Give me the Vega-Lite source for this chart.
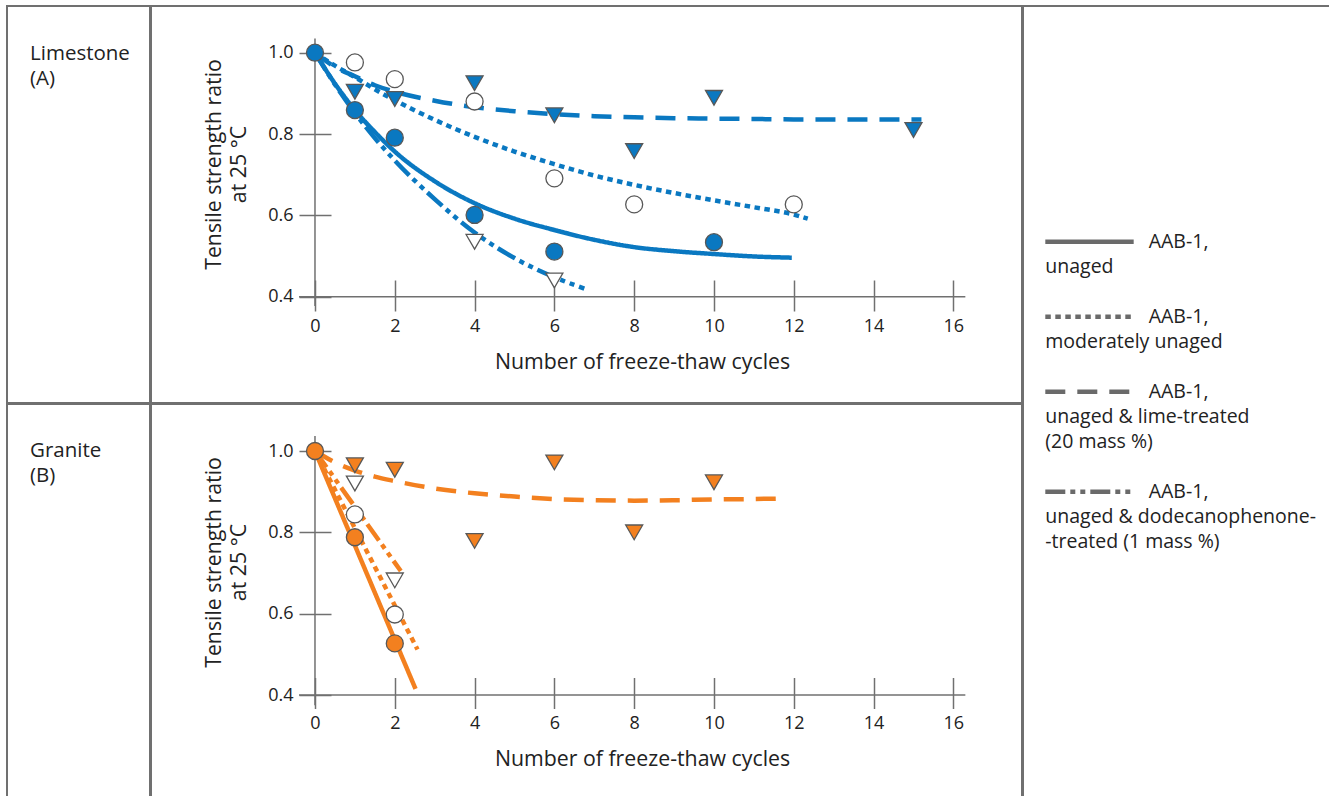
{
  "$schema": "https://vega.github.io/schema/vega-lite/v6.json",
  "padding": {"left": 6, "top": 5, "right": 0, "bottom": 0},
  "background": "white",
  "config": {
    "font": "Open Sans",
    "view": {"stroke": "#707070", "strokeWidth": 2},
    "text": {"font": "Open Sans", "color": "#222222"},
    "axis": {"labelFont": "Open Sans", "titleFont": "Open Sans", "labelColor": "#222222", "titleColor": "#222222", "titleFontWeight": "normal"}
  },
  "datasets": {
    "rocks": [
      {"rock": "Limestone", "label": "Limestone\n(A)"},
      {"rock": "Granite", "label": "Granite\n(B)"}
    ],
    "legend": [
      {"series": "AAB-1, unaged", "binder": "AAB-1,", "desc": "unaged"},
      {"series": "AAB-1, moderately unaged", "binder": "AAB-1,", "desc": "moderately unaged"},
      {"series": "AAB-1, unaged & lime-treated (20 mass %)", "binder": "AAB-1,", "desc": "unaged & lime-treated\n(20 mass %)"},
      {"series": "AAB-1, unaged & dodecanophenone-treated (1 mass %)", "binder": "AAB-1,", "desc": "unaged & dodecanophenone-\n-treated (1 mass %)"}
    ],
    "measured": [
      {"rock": "Limestone", "series": "AAB-1, unaged", "cycles": 0, "ratio": 1.0},
      {"rock": "Limestone", "series": "AAB-1, unaged", "cycles": 1, "ratio": 0.859},
      {"rock": "Limestone", "series": "AAB-1, unaged", "cycles": 2, "ratio": 0.791},
      {"rock": "Limestone", "series": "AAB-1, unaged", "cycles": 4, "ratio": 0.601},
      {"rock": "Limestone", "series": "AAB-1, unaged", "cycles": 6, "ratio": 0.511},
      {"rock": "Limestone", "series": "AAB-1, unaged", "cycles": 10, "ratio": 0.534},
      {"rock": "Limestone", "series": "AAB-1, moderately unaged", "cycles": 1, "ratio": 0.976},
      {"rock": "Limestone", "series": "AAB-1, moderately unaged", "cycles": 2, "ratio": 0.935},
      {"rock": "Limestone", "series": "AAB-1, moderately unaged", "cycles": 4, "ratio": 0.88},
      {"rock": "Limestone", "series": "AAB-1, moderately unaged", "cycles": 6, "ratio": 0.691},
      {"rock": "Limestone", "series": "AAB-1, moderately unaged", "cycles": 8, "ratio": 0.627},
      {"rock": "Limestone", "series": "AAB-1, moderately unaged", "cycles": 12, "ratio": 0.627},
      {"rock": "Limestone", "series": "AAB-1, unaged & lime-treated (20 mass %)", "cycles": 1, "ratio": 0.904},
      {"rock": "Limestone", "series": "AAB-1, unaged & lime-treated (20 mass %)", "cycles": 2, "ratio": 0.886},
      {"rock": "Limestone", "series": "AAB-1, unaged & lime-treated (20 mass %)", "cycles": 4, "ratio": 0.925},
      {"rock": "Limestone", "series": "AAB-1, unaged & lime-treated (20 mass %)", "cycles": 6, "ratio": 0.846},
      {"rock": "Limestone", "series": "AAB-1, unaged & lime-treated (20 mass %)", "cycles": 8, "ratio": 0.758},
      {"rock": "Limestone", "series": "AAB-1, unaged & lime-treated (20 mass %)", "cycles": 10, "ratio": 0.889},
      {"rock": "Limestone", "series": "AAB-1, unaged & lime-treated (20 mass %)", "cycles": 15, "ratio": 0.81},
      {"rock": "Limestone", "series": "AAB-1, unaged & dodecanophenone-treated (1 mass %)", "cycles": 4, "ratio": 0.535},
      {"rock": "Limestone", "series": "AAB-1, unaged & dodecanophenone-treated (1 mass %)", "cycles": 6, "ratio": 0.44},
      {"rock": "Granite", "series": "AAB-1, unaged", "cycles": 0, "ratio": 1.0},
      {"rock": "Granite", "series": "AAB-1, unaged", "cycles": 1, "ratio": 0.788},
      {"rock": "Granite", "series": "AAB-1, unaged", "cycles": 2, "ratio": 0.527},
      {"rock": "Granite", "series": "AAB-1, moderately unaged", "cycles": 1, "ratio": 0.844},
      {"rock": "Granite", "series": "AAB-1, moderately unaged", "cycles": 2, "ratio": 0.598},
      {"rock": "Granite", "series": "AAB-1, unaged & lime-treated (20 mass %)", "cycles": 1, "ratio": 0.965},
      {"rock": "Granite", "series": "AAB-1, unaged & lime-treated (20 mass %)", "cycles": 2, "ratio": 0.954},
      {"rock": "Granite", "series": "AAB-1, unaged & lime-treated (20 mass %)", "cycles": 4, "ratio": 0.779},
      {"rock": "Granite", "series": "AAB-1, unaged & lime-treated (20 mass %)", "cycles": 6, "ratio": 0.972},
      {"rock": "Granite", "series": "AAB-1, unaged & lime-treated (20 mass %)", "cycles": 8, "ratio": 0.8},
      {"rock": "Granite", "series": "AAB-1, unaged & lime-treated (20 mass %)", "cycles": 10, "ratio": 0.923},
      {"rock": "Granite", "series": "AAB-1, unaged & dodecanophenone-treated (1 mass %)", "cycles": 1, "ratio": 0.92},
      {"rock": "Granite", "series": "AAB-1, unaged & dodecanophenone-treated (1 mass %)", "cycles": 2, "ratio": 0.682}
    ],
    "fitted": [
      {"rock": "Limestone", "series": "AAB-1, unaged", "cycles": 0, "ratio": 1.0},
      {"rock": "Limestone", "series": "AAB-1, unaged", "cycles": 0.5, "ratio": 0.924},
      {"rock": "Limestone", "series": "AAB-1, unaged", "cycles": 1, "ratio": 0.859},
      {"rock": "Limestone", "series": "AAB-1, unaged", "cycles": 1.5, "ratio": 0.805},
      {"rock": "Limestone", "series": "AAB-1, unaged", "cycles": 2, "ratio": 0.757},
      {"rock": "Limestone", "series": "AAB-1, unaged", "cycles": 3, "ratio": 0.684},
      {"rock": "Limestone", "series": "AAB-1, unaged", "cycles": 4, "ratio": 0.63},
      {"rock": "Limestone", "series": "AAB-1, unaged", "cycles": 5, "ratio": 0.592},
      {"rock": "Limestone", "series": "AAB-1, unaged", "cycles": 6, "ratio": 0.564},
      {"rock": "Limestone", "series": "AAB-1, unaged", "cycles": 7, "ratio": 0.54},
      {"rock": "Limestone", "series": "AAB-1, unaged", "cycles": 8, "ratio": 0.522},
      {"rock": "Limestone", "series": "AAB-1, unaged", "cycles": 9, "ratio": 0.512},
      {"rock": "Limestone", "series": "AAB-1, unaged", "cycles": 10, "ratio": 0.505},
      {"rock": "Limestone", "series": "AAB-1, unaged", "cycles": 11, "ratio": 0.499},
      {"rock": "Limestone", "series": "AAB-1, unaged", "cycles": 11.95, "ratio": 0.496},
      {"rock": "Limestone", "series": "AAB-1, moderately unaged", "cycles": 0, "ratio": 1.0},
      {"rock": "Limestone", "series": "AAB-1, moderately unaged", "cycles": 0.5, "ratio": 0.968},
      {"rock": "Limestone", "series": "AAB-1, moderately unaged", "cycles": 1, "ratio": 0.94},
      {"rock": "Limestone", "series": "AAB-1, moderately unaged", "cycles": 1.5, "ratio": 0.91},
      {"rock": "Limestone", "series": "AAB-1, moderately unaged", "cycles": 2, "ratio": 0.883},
      {"rock": "Limestone", "series": "AAB-1, moderately unaged", "cycles": 3, "ratio": 0.835},
      {"rock": "Limestone", "series": "AAB-1, moderately unaged", "cycles": 4, "ratio": 0.793},
      {"rock": "Limestone", "series": "AAB-1, moderately unaged", "cycles": 5, "ratio": 0.757},
      {"rock": "Limestone", "series": "AAB-1, moderately unaged", "cycles": 6, "ratio": 0.726},
      {"rock": "Limestone", "series": "AAB-1, moderately unaged", "cycles": 7, "ratio": 0.698},
      {"rock": "Limestone", "series": "AAB-1, moderately unaged", "cycles": 8, "ratio": 0.675},
      {"rock": "Limestone", "series": "AAB-1, moderately unaged", "cycles": 9, "ratio": 0.655},
      {"rock": "Limestone", "series": "AAB-1, moderately unaged", "cycles": 10, "ratio": 0.637},
      {"rock": "Limestone", "series": "AAB-1, moderately unaged", "cycles": 11, "ratio": 0.62},
      {"rock": "Limestone", "series": "AAB-1, moderately unaged", "cycles": 12, "ratio": 0.602},
      {"rock": "Limestone", "series": "AAB-1, moderately unaged", "cycles": 12.35, "ratio": 0.592},
      {"rock": "Limestone", "series": "AAB-1, unaged & lime-treated (20 mass %)", "cycles": 0, "ratio": 1.0},
      {"rock": "Limestone", "series": "AAB-1, unaged & lime-treated (20 mass %)", "cycles": 0.5, "ratio": 0.965},
      {"rock": "Limestone", "series": "AAB-1, unaged & lime-treated (20 mass %)", "cycles": 1, "ratio": 0.942},
      {"rock": "Limestone", "series": "AAB-1, unaged & lime-treated (20 mass %)", "cycles": 1.5, "ratio": 0.92},
      {"rock": "Limestone", "series": "AAB-1, unaged & lime-treated (20 mass %)", "cycles": 2, "ratio": 0.904},
      {"rock": "Limestone", "series": "AAB-1, unaged & lime-treated (20 mass %)", "cycles": 3, "ratio": 0.882},
      {"rock": "Limestone", "series": "AAB-1, unaged & lime-treated (20 mass %)", "cycles": 4, "ratio": 0.866},
      {"rock": "Limestone", "series": "AAB-1, unaged & lime-treated (20 mass %)", "cycles": 5, "ratio": 0.856},
      {"rock": "Limestone", "series": "AAB-1, unaged & lime-treated (20 mass %)", "cycles": 6, "ratio": 0.849},
      {"rock": "Limestone", "series": "AAB-1, unaged & lime-treated (20 mass %)", "cycles": 7, "ratio": 0.844},
      {"rock": "Limestone", "series": "AAB-1, unaged & lime-treated (20 mass %)", "cycles": 8, "ratio": 0.841},
      {"rock": "Limestone", "series": "AAB-1, unaged & lime-treated (20 mass %)", "cycles": 9, "ratio": 0.839},
      {"rock": "Limestone", "series": "AAB-1, unaged & lime-treated (20 mass %)", "cycles": 10, "ratio": 0.838},
      {"rock": "Limestone", "series": "AAB-1, unaged & lime-treated (20 mass %)", "cycles": 11, "ratio": 0.837},
      {"rock": "Limestone", "series": "AAB-1, unaged & lime-treated (20 mass %)", "cycles": 12, "ratio": 0.836},
      {"rock": "Limestone", "series": "AAB-1, unaged & lime-treated (20 mass %)", "cycles": 13, "ratio": 0.836},
      {"rock": "Limestone", "series": "AAB-1, unaged & lime-treated (20 mass %)", "cycles": 14, "ratio": 0.836},
      {"rock": "Limestone", "series": "AAB-1, unaged & lime-treated (20 mass %)", "cycles": 15.2, "ratio": 0.836},
      {"rock": "Limestone", "series": "AAB-1, unaged & dodecanophenone-treated (1 mass %)", "cycles": 0, "ratio": 1.0},
      {"rock": "Limestone", "series": "AAB-1, unaged & dodecanophenone-treated (1 mass %)", "cycles": 0.5, "ratio": 0.922},
      {"rock": "Limestone", "series": "AAB-1, unaged & dodecanophenone-treated (1 mass %)", "cycles": 1, "ratio": 0.852},
      {"rock": "Limestone", "series": "AAB-1, unaged & dodecanophenone-treated (1 mass %)", "cycles": 1.5, "ratio": 0.79},
      {"rock": "Limestone", "series": "AAB-1, unaged & dodecanophenone-treated (1 mass %)", "cycles": 2, "ratio": 0.735},
      {"rock": "Limestone", "series": "AAB-1, unaged & dodecanophenone-treated (1 mass %)", "cycles": 3, "ratio": 0.64},
      {"rock": "Limestone", "series": "AAB-1, unaged & dodecanophenone-treated (1 mass %)", "cycles": 4, "ratio": 0.558},
      {"rock": "Limestone", "series": "AAB-1, unaged & dodecanophenone-treated (1 mass %)", "cycles": 5, "ratio": 0.495},
      {"rock": "Limestone", "series": "AAB-1, unaged & dodecanophenone-treated (1 mass %)", "cycles": 6, "ratio": 0.448},
      {"rock": "Limestone", "series": "AAB-1, unaged & dodecanophenone-treated (1 mass %)", "cycles": 6.75, "ratio": 0.42},
      {"rock": "Granite", "series": "AAB-1, unaged", "cycles": 0, "ratio": 1.0},
      {"rock": "Granite", "series": "AAB-1, unaged", "cycles": 2.52, "ratio": 0.415},
      {"rock": "Granite", "series": "AAB-1, moderately unaged", "cycles": 0, "ratio": 1.0},
      {"rock": "Granite", "series": "AAB-1, moderately unaged", "cycles": 2.57, "ratio": 0.512},
      {"rock": "Granite", "series": "AAB-1, unaged & lime-treated (20 mass %)", "cycles": 0, "ratio": 1.0},
      {"rock": "Granite", "series": "AAB-1, unaged & lime-treated (20 mass %)", "cycles": 0.5, "ratio": 0.972},
      {"rock": "Granite", "series": "AAB-1, unaged & lime-treated (20 mass %)", "cycles": 1, "ratio": 0.952},
      {"rock": "Granite", "series": "AAB-1, unaged & lime-treated (20 mass %)", "cycles": 1.5, "ratio": 0.937},
      {"rock": "Granite", "series": "AAB-1, unaged & lime-treated (20 mass %)", "cycles": 2, "ratio": 0.926},
      {"rock": "Granite", "series": "AAB-1, unaged & lime-treated (20 mass %)", "cycles": 3, "ratio": 0.908},
      {"rock": "Granite", "series": "AAB-1, unaged & lime-treated (20 mass %)", "cycles": 4, "ratio": 0.896},
      {"rock": "Granite", "series": "AAB-1, unaged & lime-treated (20 mass %)", "cycles": 5, "ratio": 0.888},
      {"rock": "Granite", "series": "AAB-1, unaged & lime-treated (20 mass %)", "cycles": 6, "ratio": 0.882},
      {"rock": "Granite", "series": "AAB-1, unaged & lime-treated (20 mass %)", "cycles": 7, "ratio": 0.879},
      {"rock": "Granite", "series": "AAB-1, unaged & lime-treated (20 mass %)", "cycles": 8, "ratio": 0.878},
      {"rock": "Granite", "series": "AAB-1, unaged & lime-treated (20 mass %)", "cycles": 9, "ratio": 0.879},
      {"rock": "Granite", "series": "AAB-1, unaged & lime-treated (20 mass %)", "cycles": 10, "ratio": 0.881},
      {"rock": "Granite", "series": "AAB-1, unaged & lime-treated (20 mass %)", "cycles": 11, "ratio": 0.882},
      {"rock": "Granite", "series": "AAB-1, unaged & lime-treated (20 mass %)", "cycles": 11.6, "ratio": 0.883},
      {"rock": "Granite", "series": "AAB-1, unaged & dodecanophenone-treated (1 mass %)", "cycles": 0, "ratio": 1.0},
      {"rock": "Granite", "series": "AAB-1, unaged & dodecanophenone-treated (1 mass %)", "cycles": 2.15, "ratio": 0.705}
    ]
  },
  "spacing": -2,
  "hconcat": [
    {
      "spacing": -2,
      "vconcat": [
        {
          "spacing": -2,
          "hconcat": [
            {
              "width": 143, "height": 397,
              "data": {"name": "rocks"},
              "transform": [{"filter": "datum.rock === 'Limestone'"}],
              "mark": {"type": "text", "align": "left", "baseline": "alphabetic", "fontSize": 20.5, "lineBreak": "\n", "lineHeight": 25.5, "font": "Open Sans", "color": "#222222"},
              "encoding": {
                "x": {"datum": 0.161, "type": "quantitative", "scale": {"domain": [0, 1], "nice": false, "zero": false}, "axis": null},
                "y": {"datum": 0.136, "type": "quantitative", "scale": {"domain": [1, 0], "nice": false, "zero": false}, "axis": null},
                "text": {"field": "label"}
              }
            },
            {
              "width": 871, "height": 397,
              "layer": [
                {
                  "data": {"name": "fitted"},
                  "transform": [{"filter": "datum.rock === 'Limestone'"}],
                  "mark": {"type": "line", "stroke": "#0a78c1", "strokeWidth": 4.5, "strokeCap": "butt", "interpolate": "monotone"},
                  "encoding": {
                    "x": {"field": "cycles", "type": "quantitative", "scale": {"domain": [-4.11, 17.72], "nice": false, "zero": false},
                      "axis": {"values": [0, 2, 4, 6, 8, 10, 12, 14, 16], "domain": false, "grid": false, "tickSize": 31, "tickColor": "#707070", "tickWidth": 1.5, "offset": -123, "labelPadding": 6, "labelFontSize": 18, "labelFlush": false, "labelOverlap": false, "title": "Number of freeze-thaw cycles", "titleX": 491, "titleY": 71, "titleFontSize": 21.3, "titleBaseline": "top", "titleAlign": "center"}},
                    "y": {"field": "ratio", "type": "quantitative", "scale": {"domain": [0.1387, 1.1148], "nice": false, "zero": false},
                      "axis": {"values": [0.4, 0.6, 0.8, 1.0], "format": ".1f", "domain": false, "grid": false, "tickSize": 32, "tickColor": "#707070", "tickWidth": 1.5, "offset": -180, "labelPadding": 6, "labelFontSize": 18, "labelFlush": false, "labelOverlap": false, "title": ["Tensile strength ratio", "at 25 °C"], "titleX": -111, "titleY": 158, "titleAngle": 270, "titleBaseline": "alphabetic", "titleAlign": "center", "titleLineHeight": 25, "titleFontSize": 21.3}},
                    "strokeDash": {"field": "series", "type": "nominal", "legend": null,
                      "scale": {"domain": ["AAB-1, unaged", "AAB-1, moderately unaged", "AAB-1, unaged & lime-treated (20 mass %)", "AAB-1, unaged & dodecanophenone-treated (1 mass %)"], "range": [[1, 0], [5.5, 4.5], [20, 12], [20, 5, 5, 5, 5, 5]]}}
                  }
                },
                {
                  "data": {"name": "rocks"},
                  "transform": [{"filter": "datum.rock === 'Limestone'"}],
                  "mark": {"type": "rule", "stroke": "#707070", "strokeWidth": 1.5},
                  "encoding": {
                    "x": {"datum": -0.4, "type": "quantitative", "scale": {"domain": [-4.11, 17.72], "nice": false, "zero": false}},
                    "x2": {"datum": 16.3},
                    "y": {"datum": 0.4, "type": "quantitative", "scale": {"domain": [0.1387, 1.1148], "nice": false, "zero": false}}
                  }
                },
                {
                  "data": {"name": "rocks"},
                  "transform": [{"filter": "datum.rock === 'Limestone'"}],
                  "mark": {"type": "rule", "stroke": "#707070", "strokeWidth": 1.5},
                  "encoding": {
                    "x": {"datum": 0, "type": "quantitative", "scale": {"domain": [-4.11, 17.72], "nice": false, "zero": false}},
                    "y": {"datum": 0.377, "type": "quantitative", "scale": {"domain": [0.1387, 1.1148], "nice": false, "zero": false}},
                    "y2": {"datum": 1.035}
                  }
                },
                {
                  "data": {"name": "measured"},
                  "transform": [{"filter": "datum.rock === 'Limestone' && (datum.series === 'AAB-1, moderately unaged' || datum.series === 'AAB-1, unaged & dodecanophenone-treated (1 mass %)')"}],
                  "mark": {"type": "point", "filled": true, "fill": "white", "stroke": "#585858", "strokeWidth": 1.3, "opacity": 1, "size": 289},
                  "encoding": {
                    "x": {"field": "cycles", "type": "quantitative", "scale": {"domain": [-4.11, 17.72], "nice": false, "zero": false}},
                    "y": {"field": "ratio", "type": "quantitative", "scale": {"domain": [0.1387, 1.1148], "nice": false, "zero": false}},
                    "shape": {"field": "series", "type": "nominal", "legend": null,
                      "scale": {"domain": ["AAB-1, unaged", "AAB-1, moderately unaged", "AAB-1, unaged & lime-treated (20 mass %)", "AAB-1, unaged & dodecanophenone-treated (1 mass %)"], "range": ["circle", "circle", "triangle-down", "triangle-down"]}}
                  }
                },
                {
                  "data": {"name": "measured"},
                  "transform": [{"filter": "datum.rock === 'Limestone' && (datum.series === 'AAB-1, unaged' || datum.series === 'AAB-1, unaged & lime-treated (20 mass %)')"}],
                  "mark": {"type": "point", "filled": true, "fill": "#0a78c1", "stroke": "#585858", "strokeWidth": 1.3, "opacity": 1, "size": 289},
                  "encoding": {
                    "x": {"field": "cycles", "type": "quantitative", "scale": {"domain": [-4.11, 17.72], "nice": false, "zero": false}},
                    "y": {"field": "ratio", "type": "quantitative", "scale": {"domain": [0.1387, 1.1148], "nice": false, "zero": false}},
                    "shape": {"field": "series", "type": "nominal", "legend": null,
                      "scale": {"domain": ["AAB-1, unaged", "AAB-1, moderately unaged", "AAB-1, unaged & lime-treated (20 mass %)", "AAB-1, unaged & dodecanophenone-treated (1 mass %)"], "range": ["circle", "circle", "triangle-down", "triangle-down"]}}
                  }
                }
              ]
            }
          ]
        },
        {
          "spacing": -2,
          "hconcat": [
            {
              "width": 143, "height": 400,
              "data": {"name": "rocks"},
              "transform": [{"filter": "datum.rock === 'Granite'"}],
              "mark": {"type": "text", "align": "left", "baseline": "alphabetic", "fontSize": 20.5, "lineBreak": "\n", "lineHeight": 25.5, "font": "Open Sans", "color": "#222222"},
              "encoding": {
                "x": {"datum": 0.161, "type": "quantitative", "scale": {"domain": [0, 1], "nice": false, "zero": false}, "axis": null},
                "y": {"datum": 0.132, "type": "quantitative", "scale": {"domain": [1, 0], "nice": false, "zero": false}, "axis": null},
                "text": {"field": "label"}
              }
            },
            {
              "width": 871, "height": 400,
              "layer": [
                {
                  "data": {"name": "fitted"},
                  "transform": [{"filter": "datum.rock === 'Granite'"}],
                  "mark": {"type": "line", "stroke": "#f3801f", "strokeWidth": 4.5, "strokeCap": "butt", "interpolate": "monotone"},
                  "encoding": {
                    "x": {"field": "cycles", "type": "quantitative", "scale": {"domain": [-4.11, 17.72], "nice": false, "zero": false},
                      "axis": {"values": [0, 2, 4, 6, 8, 10, 12, 14, 16], "domain": false, "grid": false, "tickSize": 31, "tickColor": "#707070", "tickWidth": 1.5, "offset": -126.5, "labelPadding": 6, "labelFontSize": 18, "labelFlush": false, "labelOverlap": false, "title": "Number of freeze-thaw cycles", "titleX": 491, "titleY": 71, "titleFontSize": 21.3, "titleBaseline": "top", "titleAlign": "center"}},
                    "y": {"field": "ratio", "type": "quantitative", "scale": {"domain": [0.1321, 1.1156], "nice": false, "zero": false},
                      "axis": {"values": [0.4, 0.6, 0.8, 1.0], "format": ".1f", "domain": false, "grid": false, "tickSize": 32, "tickColor": "#707070", "tickWidth": 1.5, "offset": -180, "labelPadding": 6, "labelFontSize": 18, "labelFlush": false, "labelOverlap": false, "title": ["Tensile strength ratio", "at 25 °C"], "titleX": -111, "titleY": 158, "titleAngle": 270, "titleBaseline": "alphabetic", "titleAlign": "center", "titleLineHeight": 25, "titleFontSize": 21.3}},
                    "strokeDash": {"field": "series", "type": "nominal", "legend": null,
                      "scale": {"domain": ["AAB-1, unaged", "AAB-1, moderately unaged", "AAB-1, unaged & lime-treated (20 mass %)", "AAB-1, unaged & dodecanophenone-treated (1 mass %)"], "range": [[1, 0], [5.5, 4.5], [20, 12], [20, 5, 5, 5, 5, 5]]}}
                  }
                },
                {
                  "data": {"name": "rocks"},
                  "transform": [{"filter": "datum.rock === 'Granite'"}],
                  "mark": {"type": "rule", "stroke": "#707070", "strokeWidth": 1.5},
                  "encoding": {
                    "x": {"datum": -0.4, "type": "quantitative", "scale": {"domain": [-4.11, 17.72], "nice": false, "zero": false}},
                    "x2": {"datum": 16.3},
                    "y": {"datum": 0.4, "type": "quantitative", "scale": {"domain": [0.1321, 1.1156], "nice": false, "zero": false}}
                  }
                },
                {
                  "data": {"name": "rocks"},
                  "transform": [{"filter": "datum.rock === 'Granite'"}],
                  "mark": {"type": "rule", "stroke": "#707070", "strokeWidth": 1.5},
                  "encoding": {
                    "x": {"datum": 0, "type": "quantitative", "scale": {"domain": [-4.11, 17.72], "nice": false, "zero": false}},
                    "y": {"datum": 0.375, "type": "quantitative", "scale": {"domain": [0.1321, 1.1156], "nice": false, "zero": false}},
                    "y2": {"datum": 1.037}
                  }
                },
                {
                  "data": {"name": "measured"},
                  "transform": [{"filter": "datum.rock === 'Granite' && (datum.series === 'AAB-1, moderately unaged' || datum.series === 'AAB-1, unaged & dodecanophenone-treated (1 mass %)')"}],
                  "mark": {"type": "point", "filled": true, "fill": "white", "stroke": "#585858", "strokeWidth": 1.3, "opacity": 1, "size": 289},
                  "encoding": {
                    "x": {"field": "cycles", "type": "quantitative", "scale": {"domain": [-4.11, 17.72], "nice": false, "zero": false}},
                    "y": {"field": "ratio", "type": "quantitative", "scale": {"domain": [0.1321, 1.1156], "nice": false, "zero": false}},
                    "shape": {"field": "series", "type": "nominal", "legend": null,
                      "scale": {"domain": ["AAB-1, unaged", "AAB-1, moderately unaged", "AAB-1, unaged & lime-treated (20 mass %)", "AAB-1, unaged & dodecanophenone-treated (1 mass %)"], "range": ["circle", "circle", "triangle-down", "triangle-down"]}}
                  }
                },
                {
                  "data": {"name": "measured"},
                  "transform": [{"filter": "datum.rock === 'Granite' && (datum.series === 'AAB-1, unaged' || datum.series === 'AAB-1, unaged & lime-treated (20 mass %)')"}],
                  "mark": {"type": "point", "filled": true, "fill": "#f3801f", "stroke": "#585858", "strokeWidth": 1.3, "opacity": 1, "size": 289},
                  "encoding": {
                    "x": {"field": "cycles", "type": "quantitative", "scale": {"domain": [-4.11, 17.72], "nice": false, "zero": false}},
                    "y": {"field": "ratio", "type": "quantitative", "scale": {"domain": [0.1321, 1.1156], "nice": false, "zero": false}},
                    "shape": {"field": "series", "type": "nominal", "legend": null,
                      "scale": {"domain": ["AAB-1, unaged", "AAB-1, moderately unaged", "AAB-1, unaged & lime-treated (20 mass %)", "AAB-1, unaged & dodecanophenone-treated (1 mass %)"], "range": ["circle", "circle", "triangle-down", "triangle-down"]}}
                  }
                }
              ]
            }
          ]
        }
      ]
    },
    {
      "width": 320, "height": 797,
      "data": {"name": "legend"},
      "layer": [
        {
          "mark": {"type": "rule", "stroke": "#6a6a6a", "strokeWidth": 4.5, "strokeCap": "butt"},
          "encoding": {
            "x": {"datum": 0.0697, "type": "quantitative", "scale": {"domain": [0, 1], "nice": false, "zero": false}, "axis": null},
            "x2": {"datum": 0.3459},
            "y": {"field": "series", "type": "nominal", "axis": null, "scale": {"type": "point", "padding": 0, "domain": ["AAB-1, unaged", " 1", " 2", "AAB-1, moderately unaged", " 4", " 5", "AAB-1, unaged & lime-treated (20 mass %)", " 7", " 8", " 9", "AAB-1, unaged & dodecanophenone-treated (1 mass %)"], "range": [235.7, 485.7]}},
            "strokeDash": {"field": "series", "type": "nominal", "legend": null,
              "scale": {"domain": ["AAB-1, unaged", "AAB-1, moderately unaged", "AAB-1, unaged & lime-treated (20 mass %)", "AAB-1, unaged & dodecanophenone-treated (1 mass %)"], "range": [[1, 0], [5.5, 4.5], [20, 12], [20, 5, 5, 5, 5, 5]]}}
          }
        },
        {
          "mark": {"type": "text", "align": "left", "baseline": "middle", "fontSize": 19.5, "font": "Open Sans", "color": "#222222"},
          "encoding": {
            "x": {"datum": 0.3928, "type": "quantitative", "scale": {"domain": [0, 1], "nice": false, "zero": false}, "axis": null},
            "y": {"field": "series", "type": "nominal", "axis": null, "scale": {"type": "point", "padding": 0, "domain": ["AAB-1, unaged", " 1", " 2", "AAB-1, moderately unaged", " 4", " 5", "AAB-1, unaged & lime-treated (20 mass %)", " 7", " 8", " 9", "AAB-1, unaged & dodecanophenone-treated (1 mass %)"], "range": [235.7, 485.7]}},
            "text": {"field": "binder"}
          }
        },
        {
          "mark": {"type": "text", "align": "left", "baseline": "alphabetic", "dy": 31.5, "lineBreak": "\n", "lineHeight": 25, "fontSize": 19.5, "font": "Open Sans", "color": "#222222"},
          "encoding": {
            "x": {"datum": 0.0697, "type": "quantitative", "scale": {"domain": [0, 1], "nice": false, "zero": false}, "axis": null},
            "y": {"field": "series", "type": "nominal", "axis": null, "scale": {"type": "point", "padding": 0, "domain": ["AAB-1, unaged", " 1", " 2", "AAB-1, moderately unaged", " 4", " 5", "AAB-1, unaged & lime-treated (20 mass %)", " 7", " 8", " 9", "AAB-1, unaged & dodecanophenone-treated (1 mass %)"], "range": [235.7, 485.7]}},
            "text": {"field": "desc"}
          }
        }
      ]
    }
  ]
}
